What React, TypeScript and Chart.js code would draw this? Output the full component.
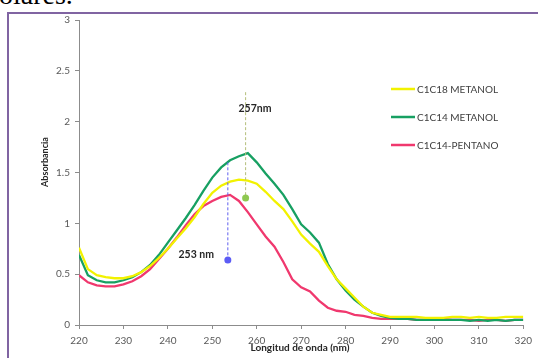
import React, { useEffect, useRef } from "react";
import { Chart, registerables } from "chart.js";

Chart.register(...registerables);

const wavelengths = [
  220, 222, 224, 226, 228, 230, 232, 234, 236, 238, 240, 242, 244, 246, 248, 250, 252, 254, 256, 258,
  260, 262, 264, 266, 268, 270, 272, 274, 276, 278, 280, 282, 284, 286, 288, 290, 292, 294, 296, 298,
  300, 302, 304, 306, 308, 310, 312, 314, 316, 318, 320,
];

const c1c18Metanol = [
  0.76, 0.55, 0.49, 0.47, 0.46, 0.46, 0.48, 0.52, 0.58, 0.66, 0.75, 0.85, 0.95, 1.06, 1.19, 1.3, 1.37, 1.41, 1.43, 1.42,
  1.39, 1.31, 1.22, 1.14, 1.02, 0.89, 0.8, 0.72, 0.58, 0.45, 0.36, 0.27, 0.18, 0.12, 0.1, 0.08, 0.08, 0.08, 0.08, 0.07,
  0.07, 0.07, 0.08, 0.08, 0.07, 0.08, 0.07, 0.07, 0.08, 0.08, 0.08,
];

const c1c14Metanol = [
  0.69, 0.49, 0.44, 0.42, 0.42, 0.44, 0.47, 0.52, 0.59, 0.69, 0.81, 0.93, 1.05, 1.18, 1.32, 1.45, 1.55, 1.62, 1.66, 1.69,
  1.6, 1.49, 1.39, 1.28, 1.14, 0.99, 0.91, 0.81, 0.6, 0.45, 0.34, 0.25, 0.18, 0.12, 0.09, 0.07, 0.06, 0.06, 0.05, 0.05,
  0.05, 0.05, 0.05, 0.05, 0.04, 0.05, 0.04, 0.05, 0.04, 0.05, 0.05,
];

const c1c14Pentano = [
  0.49, 0.42, 0.39, 0.38, 0.38, 0.4, 0.43, 0.48, 0.55, 0.65, 0.75, 0.86, 0.98, 1.09, 1.17, 1.22, 1.26, 1.28, 1.22, 1.11,
  0.99, 0.87, 0.77, 0.62, 0.45, 0.37, 0.33, 0.24, 0.17, 0.14, 0.13, 0.1, 0.09, 0.07, 0.06, 0.06, 0.06, 0.06, 0.05, 0.05,
  0.05, 0.06, 0.05, 0.05, 0.05, 0.04, 0.05, 0.05, 0.04, 0.05, 0.05,
];

const seriesLabels = ["C1C18 METANOL", "C1C14 METANOL", "C1C14-PENTANO"];
const seriesColors = ["#f2f200", "#17a062", "#f0386e"];

const xMin = 220;
const xMax = 320;
const xStep = 10;
const yMin = 0;
const yMax = 3;
const yStep = 0.5;

// Peak annotations
const peakLabels = ["257nm", "253 nm"];
const peakLineX = [257.5, 253.5];
const peakLineTop = [2.29, 1.6];
const peakDotValue = [1.25, 0.64];
const peakLabelX = [259.6, 246.4];
const peakLabelY = [2.13, 0.69];
const peakLineColors = ["#b4be7a", "#5f5ff0"];
const peakDotColors = ["#8ec850", "#5c5cf5"];

const xTitle = "Longitud de onda (nm)";
const yTitle = "Absorbancia";

const overlayPlugin = {
  id: "overlay",
  afterDatasetsDraw(chart: any) {
    const { ctx, chartArea, scales } = chart;
    const xs = scales.x;
    const ys = scales.y;
    ctx.save();

    // peak guide lines and dots
    for (let i = 0; i < peakLabels.length; i++) {
      const px = xs.getPixelForValue(peakLineX[i]);
      const pTop = ys.getPixelForValue(peakLineTop[i]);
      const pDot = ys.getPixelForValue(peakDotValue[i]);
      ctx.beginPath();
      ctx.setLineDash([3, 2]);
      ctx.lineWidth = 1;
      ctx.strokeStyle = peakLineColors[i];
      ctx.moveTo(px, pTop);
      ctx.lineTo(px, pDot);
      ctx.stroke();
      ctx.setLineDash([]);
      ctx.beginPath();
      ctx.fillStyle = peakDotColors[i];
      ctx.arc(px, pDot, 3.5, 0, Math.PI * 2);
      ctx.fill();

      ctx.fillStyle = "#262626";
      ctx.font = "bold 10.5px Lato";
      ctx.textAlign = "center";
      ctx.textBaseline = "middle";
      ctx.fillText(peakLabels[i], xs.getPixelForValue(peakLabelX[i]), ys.getPixelForValue(peakLabelY[i]));
    }

    // legend
    const legX = chartArea.left + 312;
    const legY = chartArea.top + 69;
    const legGap = 28;
    chart.data.datasets.forEach((ds: any, i: number) => {
      const y = legY + i * legGap;
      ctx.beginPath();
      ctx.strokeStyle = ds.borderColor;
      ctx.lineWidth = 2.5;
      ctx.moveTo(legX, y);
      ctx.lineTo(legX + 24, y);
      ctx.stroke();
      ctx.fillStyle = "#404040";
      ctx.font = "10px Lato";
      ctx.textAlign = "left";
      ctx.textBaseline = "middle";
      ctx.fillText(ds.label, legX + 26, y + 0.5);
    });

    // axis titles
    ctx.fillStyle = "#262626";
    ctx.font = "bold 10px Lato";
    ctx.textAlign = "center";
    ctx.textBaseline = "middle";
    ctx.fillText(xTitle, chartArea.left + 221, chartArea.bottom + 23);

    ctx.save();
    ctx.translate(chartArea.left - 34, chartArea.top + 142);
    ctx.rotate(-Math.PI / 2);
    ctx.font = "bold 9px Lato";
    ctx.fillText(yTitle, 0, 0);
    ctx.restore();

    ctx.restore();
  },
};

export default function App() {
  const canvasRef = useRef<HTMLCanvasElement | null>(null);

  useEffect(() => {
    const canvas = canvasRef.current;
    if (!canvas) return;
    const series = [c1c18Metanol, c1c14Metanol, c1c14Pentano];
    const chart = new Chart(canvas, {
      type: "line",
      data: {
        datasets: series.map((vals, i) => ({
          label: seriesLabels[i],
          data: wavelengths.map((w, j) => ({ x: w, y: vals[j] })),
          borderColor: seriesColors[i],
          backgroundColor: seriesColors[i],
          borderWidth: 2.3,
          pointRadius: 0,
          tension: 0,
          fill: false,
        })),
      },
      options: {
        animation: false,
        responsive: false,
        maintainAspectRatio: false,
        events: [],
        layout: { padding: { left: 0, right: 9, top: 20, bottom: 0 } },
        plugins: {
          legend: { display: false },
          tooltip: { enabled: false },
          title: { display: false },
        },
        scales: {
          x: {
            type: "linear",
            min: xMin,
            max: xMax,
            border: { display: true, color: "#8c8c8c", width: 1 },
            grid: { display: true, drawOnChartArea: false, drawTicks: true, tickLength: 4, color: "#8c8c8c" },
            ticks: {
              stepSize: xStep,
              color: "#595959",
              font: { family: "Lato", size: 10 },
              padding: 6,
              maxRotation: 0,
              autoSkip: false,
            },
            afterFit(scale: any) {
              scale.height = 33;
            },
          },
          y: {
            type: "linear",
            min: yMin,
            max: yMax,
            border: { display: true, color: "#8c8c8c", width: 1 },
            grid: { display: true, drawOnChartArea: false, drawTicks: true, tickLength: 4, color: "#8c8c8c" },
            ticks: {
              stepSize: yStep,
              color: "#595959",
              font: { family: "Lato", size: 10 },
              padding: 5,
              callback: (v: any) => String(v),
            },
            afterFit(scale: any) {
              scale.width = 79;
            },
          },
        },
      },
      plugins: [overlayPlugin],
    });
    return () => chart.destroy();
  }, []);

  return (
    <div style={{ position: "fixed", left: 0, top: 0, width: 538, height: 358, overflow: "hidden", background: "#fff" }}>
      <div
        style={{
          position: "absolute",
          left: -15,
          top: -19,
          fontFamily: "'Liberation Serif', serif",
          fontSize: 28,
          lineHeight: "28px",
          color: "#000",
          whiteSpace: "nowrap",
        }}
      >
        polares.
      </div>
      <div
        style={{
          position: "absolute",
          left: 7,
          top: 12,
          width: 560,
          height: 380,
          border: "2px solid #8064a2",
          boxSizing: "border-box",
        }}
      />
      <canvas ref={canvasRef} width={538} height={358} style={{ position: "absolute", left: 0, top: 0, width: 538, height: 358 }} />
    </div>
  );
}
